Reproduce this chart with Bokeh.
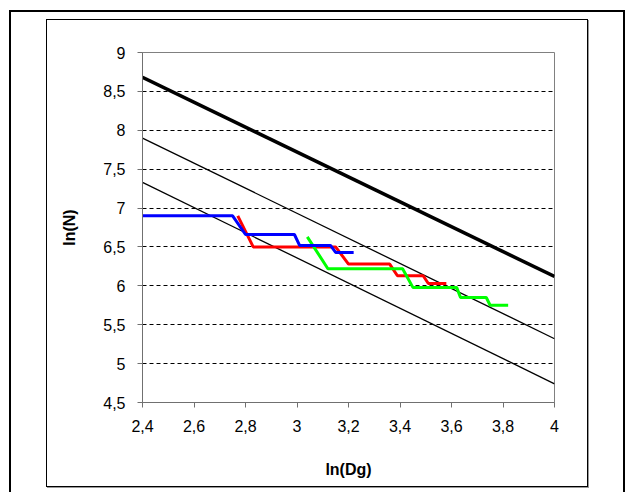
from bokeh.plotting import figure
from bokeh.models import Range1d, FixedTicker, CustomJSTickFormatter, InlineStyleSheet
from bokeh.embed import file_html
from bokeh.resources import INLINE

# ---- data ----
x_ticks = [2.4, 2.6, 2.8, 3.0, 3.2, 3.4, 3.6, 3.8, 4.0]
y_ticks = [4.5, 5.0, 5.5, 6.0, 6.5, 7.0, 7.5, 8.0, 8.5, 9.0]

thick_x = [2.4, 4.0]
thick_y = [8.68, 6.12]

upper_x = [2.4, 4.0]
upper_y = [7.90, 5.32]

lower_x = [2.4, 4.0]
lower_y = [7.33, 4.74]

red_x = [2.77, 2.83, 3.15, 3.20, 3.36, 3.39, 3.49, 3.51, 3.58]
red_y = [6.90, 6.50, 6.50, 6.28, 6.28, 6.13, 6.13, 6.03, 6.03]

green_x = [3.04, 3.12, 3.41, 3.45, 3.62, 3.635, 3.735, 3.75, 3.82]
green_y = [6.63, 6.22, 6.22, 5.98, 5.98, 5.85, 5.85, 5.75, 5.75]

blue_x = [2.40, 2.75, 2.80, 2.99, 3.01, 3.13, 3.15, 3.22]
blue_y = [6.90, 6.90, 6.66, 6.66, 6.52, 6.52, 6.43, 6.43]

FONT = "Liberation Sans"

p = figure(width=627, height=487, output_backend="svg", toolbar_location=None,
           x_range=Range1d(2.4, 4.0), y_range=Range1d(4.5, 9.0),
           min_border_left=142, min_border_right=73,
           min_border_top=52, min_border_bottom=85)
p.background_fill_color = "white"
p.border_fill_color = "white"
p.outline_line_color = "#808080"
p.outline_line_width = 1

fmt = CustomJSTickFormatter(code="""
var s = (Math.round(tick*10)/10).toString();
return s.replace('.', ',');
""")

for ax in (p.xaxis[0], p.yaxis[0]):
    ax.formatter = fmt
    ax.axis_line_color = "#707070"
    ax.major_tick_line_color = "#707070"
    ax.minor_tick_line_color = None
    ax.major_tick_in = 0
    ax.major_tick_out = 5
    ax.major_label_text_font = FONT
    ax.major_label_text_font_size = "16px"
    ax.major_label_text_color = "black"
    ax.axis_label_text_font = FONT
    ax.axis_label_text_font_size = "16px"
    ax.axis_label_text_font_style = "bold"
    ax.axis_label_text_color = "black"

p.xaxis[0].ticker = FixedTicker(ticks=x_ticks)
p.yaxis[0].ticker = FixedTicker(ticks=y_ticks)
p.xaxis[0].axis_label = "ln(Dg)"
p.yaxis[0].axis_label = "ln(N)"
p.xaxis[0].major_label_standoff = 12
p.yaxis[0].major_label_standoff = 12
p.xaxis[0].axis_label_standoff = 26
p.yaxis[0].axis_label_standoff = 22

p.xgrid.visible = False
p.ygrid.ticker = FixedTicker(ticks=y_ticks)
p.ygrid.grid_line_color = "black"
p.ygrid.grid_line_dash = "4 3"
p.ygrid.grid_line_width = 1

p.line(thick_x, thick_y, line_color="black", line_width=3.5)
p.line(upper_x, upper_y, line_color="black", line_width=1.3)
p.line(lower_x, lower_y, line_color="black", line_width=1.3)
p.line(red_x, red_y, line_color="#FF0000", line_width=3)
p.line(green_x, green_y, line_color="#00FF00", line_width=3)
p.line(blue_x, blue_y, line_color="#0000FF", line_width=3)

# outer table frame and chart-area box, drawn as CSS decorations on the figure
css = """
:host { overflow: visible; }
:host::before {
  content: ""; position: absolute; z-index: 20; pointer-events: none;
  left: 9px; top: 10px; width: 612px; height: 480px;
  border-left: 2.5px solid black; border-top: 2.5px solid black;
  border-right: 2.5px solid black;
}
:host::after {
  content: ""; position: absolute; z-index: 20; pointer-events: none;
  left: 46px; top: 19px; width: 540px; height: 466px;
  border: 1px solid black; box-shadow: 1px 1px 0 #999;
}
"""
p.stylesheets = [InlineStyleSheet(css=css)]

open("out.html", "w").write(file_html(p, INLINE))
